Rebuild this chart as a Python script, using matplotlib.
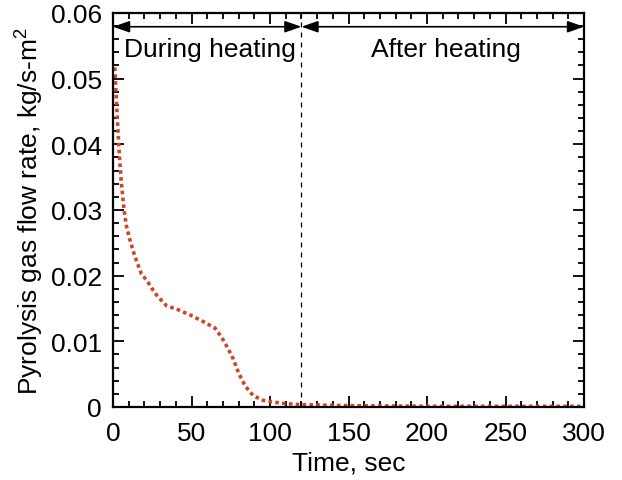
import matplotlib
matplotlib.use("Agg")
import matplotlib.pyplot as plt
from matplotlib.ticker import MultipleLocator

plt.rcParams['font.family'] = ['Liberation Sans', 'DejaVu Sans']
plt.rcParams['mathtext.fontset'] = 'custom'
plt.rcParams['mathtext.rm'] = 'Liberation Sans'

time_s = [1.1, 2.1, 3.2, 4.2, 5.3, 7.0, 8.5, 10.6, 13.8, 18.0, 22.3, 25.7, 28.2,
          34.2, 41.6, 50.1, 57.5, 65.0, 69.2, 73.5, 76.6, 79.8, 84.1, 89.4,
          95.7, 106.4, 119.0, 129.7, 150, 200, 250, 300]
flow_rate = [0.0517, 0.0469, 0.0419, 0.0377, 0.0342, 0.0301, 0.0276, 0.0256,
             0.0230, 0.0203, 0.0190, 0.0177, 0.0169, 0.0154, 0.0148, 0.0139,
             0.0130, 0.0120, 0.0106, 0.0088, 0.0073, 0.0053, 0.0032, 0.0017,
             0.0010, 0.0006, 0.00035, 0.0003, 0.0002, 0.0001, 0.0001, 0.0001]

heat_end = 120
phase_labels = ["During heating", "After heating"]

FS = 19

fig = plt.figure(figsize=(6.22, 4.81), dpi=100)
ax = fig.add_axes([0.1817, 0.1518, 0.7573, 0.8192])

ax.plot(time_s, flow_rate, color='#D0432B', linewidth=2.6,
        linestyle=(0, (1.0, 0.9)), dash_capstyle='butt')

ax.axvline(heat_end, color='black', linestyle=(0, (4, 4)), linewidth=0.9)

arr_y = 0.0579
for x0, x1 in [(0, heat_end), (heat_end, 300)]:
    ax.annotate('', xy=(x0, arr_y), xytext=(x1, arr_y),
                arrowprops=dict(arrowstyle='<|-|>,head_length=1.0,head_width=0.35',
                                color='black', lw=1.2, shrinkA=0, shrinkB=0))
ax.text(62, 0.0545, phase_labels[0], ha='center', va='center', fontsize=FS)
ax.text(212, 0.0545, phase_labels[1], ha='center', va='center', fontsize=FS)

ax.set_xlim(0, 300)
ax.set_ylim(0, 0.06)
ax.xaxis.set_minor_locator(MultipleLocator(10))
ax.yaxis.set_minor_locator(MultipleLocator(0.002))
ax.set_yticks([0, 0.01, 0.02, 0.03, 0.04, 0.05, 0.06])
ax.set_yticklabels(['0', '0.01', '0.02', '0.03', '0.04', '0.05', '0.06'])
ax.set_xticks([0, 50, 100, 150, 200, 250, 300])
ax.set_xticklabels(['0', '50', '100', '150', '200', '250', '300'])

ax.tick_params(which='both', direction='in', top=True, right=True, width=1.3,
               labelsize=FS)
ax.tick_params(which='major', length=8)
ax.tick_params(which='minor', length=4)
ax.tick_params(axis='x', which='major', pad=10)
ax.tick_params(axis='y', which='major', pad=8)
for s in ax.spines.values():
    s.set_linewidth(1.6)

ax.set_xlabel('Time, sec', fontsize=FS, labelpad=4)
ax.set_ylabel('Pyrolysis gas flow rate, kg/s-m$^{2}$', fontsize=FS, labelpad=4)

fig.savefig('out.png', dpi=100)
